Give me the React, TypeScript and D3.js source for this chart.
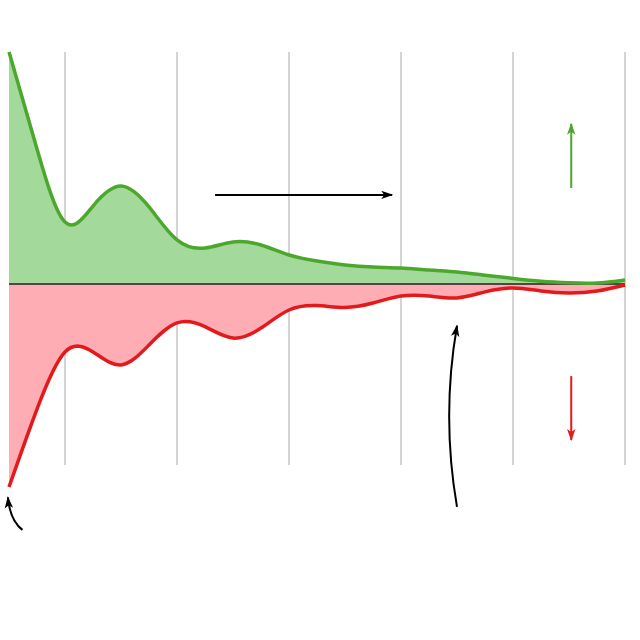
import React from "react";
import * as d3 from "d3";

// sample times (x), shared by both series
const times = [0, 0.25, 0.5, 0.75, 1.0, 1.25, 1.5, 1.75, 2.0, 2.25, 2.5, 2.75, 3.0, 3.25, 3.5, 3.75, 4.0, 4.25, 4.5, 4.75, 5.0, 5.25, 5.5];
// green series (gains above baseline)
const gains = [10.0, 5.82, 2.67, 3.36, 4.22, 3.32, 1.9, 1.55, 1.81, 1.68, 1.25, 0.99, 0.82, 0.73, 0.69, 0.6, 0.52, 0.38, 0.24, 0.12, 0.05, 0.04, 0.17];
// red series (losses below baseline)
const losses = [-8.75, -5.39, -2.93, -2.93, -3.49, -2.63, -1.68, -1.84, -2.33, -1.9, -1.12, -0.93, -1.01, -0.82, -0.52, -0.52, -0.6, -0.34, -0.17, -0.3, -0.39, -0.3, -0.04];
const gridTimes = [0.5, 1.5, 2.5, 3.5, 4.5, 5.5];

const W = 640;
const H = 640;

export default function App() {
  const x = d3.scaleLinear().domain([0, 5.5]).range([9, 625]);
  const y = d3.scaleLinear().domain([-10, 10]).range([516, 52]);
  const curve = d3.curveNatural;

  const gData = times.map((t, i) => [t, gains[i]] as [number, number]);
  const rData = times.map((t, i) => [t, losses[i]] as [number, number]);

  const area = d3.area<[number, number]>().x((d) => x(d[0])).y0(y(0)).y1((d) => y(d[1])).curve(curve);
  const line = d3.line<[number, number]>().x((d) => x(d[0])).y((d) => y(d[1])).curve(curve);

  const gridBottom = y(-7.8);

  const green = "#4ca82c";
  const red = "#e31a1c";

  // annotation arrows in data coordinates
  const hArrow = `M${x(1.84)},${y(3.84)} L${x(3.42)},${y(3.84)}`;
  const gArrow = `M${x(5.02)},${y(4.14)} L${x(5.02)},${y(6.9)}`;
  const rArrow = `M${x(5.02)},${y(-3.97)} L${x(5.02)},${y(-6.72)}`;
  const cArrow = `M${x(4.0)},${y(-9.61)} Q${x(3.86)},${y(-5.69)} ${x(4.0)},${y(-1.8)}`;
  const sArrow = `M${x(0.12)},${y(-10.6)} Q${x(0.01)},${y(-10.2)} ${x(-0.01)},${y(-9.2)}`;

  const head = "M0,1.5 L10,5 L0,8.5 L2.5,5 Z";

  return (
    <svg width={W} height={H} style={{ position: "absolute", left: 0, top: 0, background: "#fff" }}>
      <defs>
        <marker id="hk" viewBox="0 0 10 10" refX="9" refY="5" markerWidth="12" markerHeight="12" markerUnits="userSpaceOnUse" orient="auto">
          <path d={head} fill="#000" />
        </marker>
        <marker id="hg" viewBox="0 0 10 10" refX="9" refY="5" markerWidth="12" markerHeight="12" markerUnits="userSpaceOnUse" orient="auto">
          <path d={head} fill={green} />
        </marker>
        <marker id="hr" viewBox="0 0 10 10" refX="9" refY="5" markerWidth="12" markerHeight="12" markerUnits="userSpaceOnUse" orient="auto">
          <path d={head} fill={red} />
        </marker>
      </defs>
      {gridTimes.map((t) => (
        <line key={t} x1={x(t)} x2={x(t)} y1={y(10)} y2={gridBottom} stroke="#d4d4d4" strokeWidth={2} />
      ))}
      <path d={area(gData) || ""} fill="#a3d99a" />
      <path d={area(rData) || ""} fill="#fdadb3" />
      <line x1={x(0)} x2={x(5.5)} y1={y(0)} y2={y(0)} stroke="#222" strokeWidth={1.5} />
      <path d={line(gData) || ""} fill="none" stroke={green} strokeWidth={3.5} />
      <path d={line(rData) || ""} fill="none" stroke={red} strokeWidth={3.5} />
      <path d={hArrow} stroke="#000" strokeWidth={2} fill="none" markerEnd="url(#hk)" />
      <path d={gArrow} stroke={green} strokeWidth={2} fill="none" markerEnd="url(#hg)" />
      <path d={rArrow} stroke={red} strokeWidth={2} fill="none" markerEnd="url(#hr)" />
      <path d={cArrow} stroke="#000" strokeWidth={2} fill="none" markerEnd="url(#hk)" />
      <path d={sArrow} stroke="#000" strokeWidth={2} fill="none" markerEnd="url(#hk)" />
    </svg>
  );
}
